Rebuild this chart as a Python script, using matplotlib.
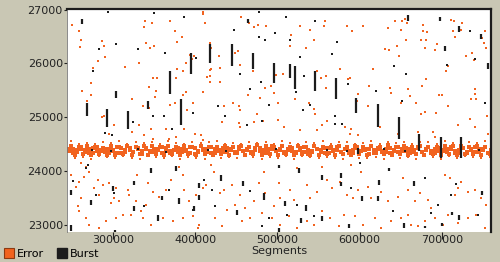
import numpy as np
import matplotlib
matplotlib.use("Agg")
import matplotlib.pyplot as plt
from matplotlib.lines import Line2D

plt.rcParams["font.family"] = ["DejaVu Sans"]

# ---- data (segment, value) ----
x_ticks = [300000, 400000, 500000, 600000, 700000]
y_ticks = [23000, 24000, 25000, 26000, 27000]

# scattered errors, upper half
err_up_x = [250150, 259060, 261090, 259870, 286220, 289460, 290680, 282160, 276080, 273250,
            262300, 273250, 267980, 267980, 288650, 286620, 314180, 331200, 339310, 347420,
            337280, 344580, 340120, 349440, 348230, 353090, 343360, 352280, 351470, 323100,
            336070, 344180, 369300, 375790, 369300, 376600, 377820, 385520, 369300, 377410,
            383890, 375380, 393620, 398080, 388760, 396060, 409030, 409840, 412270, 419160,
            418350, 413890, 417530, 409840, 388760, 385520, 382680, 396860, 389560,
            456050, 471040, 464960, 486440, 476310, 418350, 419160, 418350, 429300, 429700,
            430510, 447940, 454830, 444700, 451590, 434570, 445910, 453610, 454830, 463750,
            478740, 475100, 469830, 485230, 492120, 495360, 498600, 506710, 500630, 521700,
            527780, 534670, 539940, 544810, 516840, 515630, 558180, 556160, 553320, 558990,
            558990, 544810, 546020, 538720, 576420, 587770, 584530, 590610, 548050,
            590620, 604000, 642500, 651420, 654660, 657900, 650610, 634400, 655880, 635210,
            630340, 645340, 647770, 616160, 676950, 676950, 681820, 681010, 674930, 678980,
            694380, 691950, 710590, 714640, 713430, 716270, 724780, 722750, 751930, 749100,
            753960, 751130, 729640, 738960, 736940, 705320, 707350, 681010, 675740, 696000,
            700050, 707350, 679790, 693160, 674930, 636420, 637640, 658710, 660740, 649800,
            668850, 610890, 610080, 597920, 597110, 585760, 739770, 740580, 741800, 734910,
            755180, 760040]
err_up_y = [26717, 26594, 26441, 26306, 26422, 26330, 26121, 26054, 25906, 25630,
            25488, 25409, 25304, 25231, 25028, 24997, 25931, 26011, 26779, 26760,
            26674, 26287, 26379, 26330, 25734, 25728, 25556, 25488, 25384, 25347,
            25206, 25181, 25224, 25274, 25826, 25734, 25888, 25851, 26779, 26392,
            26490, 26594, 26164, 26134, 26011, 26091, 26963, 26920, 26760, 26287,
            25869, 25747, 25661, 25470, 25476, 25409, 25323, 25261, 25138,
            26871, 26674, 26748, 26686, 26717, 26379, 25888, 25765, 26146, 25919,
            25654, 26195, 25980, 26330, 26226, 25212, 25261, 25212, 25138, 25409,
            25366, 25058, 25857, 25550, 25581, 25458, 25777, 25796, 25274, 25335,
            26699, 26287, 26625, 26428, 26533, 26330, 26779, 26699, 25734, 25765,
            25550, 25151, 25058, 25274, 25888, 25734, 26686, 26594, 25857,
            26594, 26699, 26797, 26779, 26822, 26760, 26625, 26656, 26441, 26256,
            26269, 26330, 26134, 25888, 26717, 26594, 26576, 26441, 26441, 26287,
            26367, 26256, 26809, 26779, 26594, 26490, 26748, 26625, 26594, 26471,
            26287, 26379, 26134, 26072, 26195, 25857, 25949, 25704, 25581, 25409,
            25409, 25212, 25089, 25077, 25058, 25550, 25446, 25519, 25396, 25274,
            25274, 25581, 25212, 25427, 25304, 25704, 25519, 25427, 25335, 25335,
            25028, 25550]

# scattered errors, lower half
err_lo_x = [300810, 295540, 323100, 338100, 332020, 346200, 349040, 364440, 367680, 376600,
            386730, 400110, 407000, 409840, 261090, 267170, 271220, 265140, 259060, 255010,
            281350, 287430, 277300, 283380, 295540, 303650, 300810, 297570, 307700, 317830,
            319860, 328770, 342150, 348230, 340120, 327960, 334040, 356330, 364440, 370520,
            380650, 384700, 386730, 392810, 400920, 409020, 413080, 257040, 259060, 267170,
            271220, 283380, 291490, 303650, 311750, 321880, 336070, 346200, 360390, 372550,
            384700, 396860, 404960, 402940, 261090, 248930,
            432540, 452800, 454830, 471040, 482390, 500220, 507520, 527780, 548050, 554130,
            560210, 582500, 588580, 419160, 422410, 430510, 434570, 444700, 454830, 448750,
            460910, 477120, 483200, 485230, 495360, 503470, 501440, 515630, 519680, 523730,
            535890, 539940, 548050, 554130, 560210, 566290, 576420, 584530, 424430, 432540,
            456860, 466990, 481170, 493340, 503470, 513600, 523730, 535890, 544000, 554130,
            564260, 574390, 580470, 471040, 438620,
            589810, 597920, 622240, 624260, 646560, 670870, 689110, 691140, 719510, 733700,
            739770, 755980, 589810, 601970, 610080, 597920, 591840, 614130, 626290, 634400,
            646560, 652640, 658710, 666820, 672900, 683030, 687090, 695190, 703300, 709380,
            719510, 715460, 723560, 731670, 739770, 747880, 753960, 593870, 604000, 618180,
            626290, 638450, 650610, 662770, 670870, 678980, 691140, 701270, 707350, 719510,
            731670, 741800, 751930, 760040, 658710]
err_lo_y = [24850, 24697, 24727, 24678, 24850, 24789, 24604, 24789, 24604, 24635,
            24789, 24697, 24666, 24574, 24144, 24082, 23990, 23898, 23806, 23714,
            23837, 23744, 23683, 23560, 23775, 23683, 23499, 23407, 23437, 23652,
            23560, 23929, 23775, 23622, 23376, 23437, 23253, 23529, 23652, 23837,
            24082, 23929, 23652, 23437, 23560, 23683, 23744, 23345, 23253, 23130,
            23007, 22946, 23069, 23130, 23192, 23192, 23130, 23007, 23130, 23069,
            23130, 23161, 23007, 22946, 23499, 23929,
            24912, 24899, 24819, 24912, 24924, 24942, 24819, 24758, 24758, 24850,
            24924, 24819, 24697, 24113, 23990, 23591, 23652, 23744, 23560, 23376,
            23314, 23775, 23990, 23591, 23345, 23499, 23775, 23652, 23468, 24052,
            23744, 23499, 23622, 24082, 23837, 23683, 23806, 23560, 23130, 22977,
            23069, 23130, 23222, 23130, 23007, 23161, 22946, 23069, 23007, 23253,
            23130, 22977, 23192, 23437, 23284,
            24789, 24666, 24942, 24819, 24697, 24727, 24727, 24635, 24850, 24973,
            24819, 24697, 24113, 23990, 23714, 23652, 23499, 23499, 23622, 23437,
            23529, 23867, 23652, 23437, 23591, 23468, 23314, 23376, 23929, 23867,
            23683, 23560, 23806, 23622, 23652, 23499, 23376, 23161, 23007, 23130,
            22946, 23069, 23130, 23007, 22977, 23069, 23130, 23007, 23192, 23038,
            23130, 23192, 22946, 23069, 23192]

# the dense error band around 24400
band_x_a = [246000, 251200, 255800, 260900, 265700, 270600, 275900, 280500, 285600, 290300,
            295400, 300100, 305300, 310200, 315000, 320100, 324800, 329900, 334700, 339800,
            344500, 349700, 354400, 359600, 364300, 369500, 374200, 379300, 384100, 389200,
            394000, 399100, 403900, 409000, 413800, 418900, 423700, 428800, 433600, 438700,
            443500, 448600, 453400, 458500, 463300, 468400, 473200, 478300, 483100, 488200,
            493000, 498100, 502900, 508000, 512800, 517900, 522700, 527800, 532600, 537700,
            542500, 547600, 552400, 557500, 562300, 567400, 572200, 577300, 582100, 587200,
            592000, 597100, 601900, 607000, 611800, 616900, 621700, 626800, 631600, 636700,
            641500, 646600, 651400, 656500, 661300, 666400, 671200, 676300, 681100, 686200,
            691000, 696100, 700900, 706000, 710800, 715900, 720700, 725800, 730600, 735700,
            740500, 745600, 750400, 755500, 760300]
band_x_b = [248500, 253400, 258400, 263300, 268200, 273100, 278200, 283000, 288000, 292800,
            297800, 302700, 307700, 312600, 317500, 322500, 327400, 332300, 337300, 342200,
            347100, 352000, 357000, 361900, 366900, 371800, 376800, 381700, 386600, 391600,
            396500, 401500, 406400, 411400, 416300, 421300, 426200, 431200, 436100, 441100,
            446000, 451000, 455900, 460900, 465800, 470800, 475700, 480700, 485600, 490600,
            495500, 500500, 505400, 510400, 515300, 520300, 525200, 530200, 535100, 540100,
            545000, 550000, 554900, 559900, 564800, 569800, 574700, 579700, 584600, 589600,
            594500, 599500, 604400, 609400, 614300, 619300, 624200, 629200, 634100, 639100,
            644000, 649000, 653900, 658900, 663800, 668800, 673700, 678700, 683600, 688600,
            693500, 698500, 703400, 708400, 713300, 718300, 723200, 728200, 733100, 738100,
            743000, 748000, 752900, 757900, 762500]
band_y_a = [24372, 24405, 24351, 24418, 24388, 24342, 24426, 24367, 24398, 24355,
            24412, 24380, 24338, 24421, 24364, 24395, 24349, 24433, 24376, 24402,
            24358, 24415, 24387, 24341, 24424, 24369, 24396, 24352, 24410, 24383,
            24345, 24429, 24361, 24392, 24404, 24337, 24418, 24373, 24356, 24427,
            24390, 24348, 24413, 24378, 24401, 24359, 24432, 24366, 24385, 24343,
            24420, 24371, 24397, 24354, 24408, 24382, 24339, 24425, 24362, 24393,
            24350, 24416, 24388, 24344, 24430, 24368, 24399, 24357, 24411, 24379,
            24346, 24423, 24365, 24391, 24406, 24340, 24419, 24374, 24353, 24428,
            24386, 24347, 24414, 24377, 24403, 24360, 24431, 24363, 24389, 24342,
            24417, 24370, 24395, 24355, 24409, 24381, 24336, 24424, 24361, 24394,
            24349, 24412, 24384, 24345, 24400]
band_y_b = [24462, 24301, 24448, 24315, 24471, 24296, 24455, 24322, 24439, 24308,
            24476, 24299, 24451, 24318, 24466, 24293, 24444, 24327, 24458, 24305,
            24470, 24311, 24441, 24298, 24463, 24320, 24453, 24303, 24474, 24314,
            24446, 24291, 24468, 24325, 24457, 24307, 24442, 24317, 24473, 24295,
            24450, 24329, 24465, 24302, 24447, 24313, 24478, 24297, 24459, 24321,
            24443, 24306, 24469, 24316, 24452, 24292, 24467, 24326, 24445, 24309,
            24475, 24300, 24456, 24319, 24440, 24294, 24464, 24323, 24449, 24304,
            24472, 24312, 24454, 24297, 24461, 24328, 24444, 24310, 24477, 24299,
            24457, 24318, 24466, 24293, 24448, 24324, 24471, 24306, 24453, 24315,
            24442, 24301, 24469, 24320, 24458, 24296, 24475, 24311, 24446, 24327,
            24463, 24303, 24451, 24317, 24470]
band_y_c = [24418, 24336, 24392, 24447, 24359, 24404, 24328, 24441, 24375, 24419,
            24346, 24397, 24452, 24331, 24386, 24425, 24357, 24409, 24323, 24438,
            24381, 24349, 24416, 24456, 24368, 24334, 24401, 24429, 24352, 24391,
            24444, 24326, 24378, 24413, 24361, 24450, 24339, 24394, 24422, 24355,
            24407, 24332, 24446, 24373, 24415, 24344, 24389, 24435, 24329, 24402,
            24458, 24366, 24411, 24337, 24384, 24427, 24350, 24398, 24443, 24324,
            24379, 24420, 24362, 24437, 24341, 24393, 24454, 24358, 24405, 24333,
            24387, 24448, 24370, 24414, 24327, 24399, 24436, 24353, 24410, 24343,
            24383, 24451, 24365, 24424, 24338, 24396, 24441, 24348, 24412, 24376,
            24330, 24433, 24369, 24406, 24457, 24345, 24390, 24421, 24335, 24403,
            24445, 24360, 24417, 24331, 24388]
band_y_d = [24552, 24243, 24510, 24268, 24531, 24225, 24498, 24281, 24545, 24257,
            24519, 24236, 24563, 24274, 24503, 24249, 24538, 24229, 24515, 24286,
            24548, 24262, 24507, 24241, 24559, 24277, 24524, 24233, 24501, 24265,
            24541, 24252, 24517, 24221, 24535, 24284, 24556, 24246, 24512, 24270,
            24527, 24238, 24505, 24279, 24550, 24255, 24520, 24230, 24543, 24267,
            24509, 24244, 24561, 24273, 24529, 24226, 24502, 24282, 24539, 24259,
            24516, 24235, 24554, 24271, 24508, 24248, 24533, 24222, 24547, 24285,
            24513, 24253, 24526, 24239, 24558, 24264, 24504, 24231, 24537, 24276,
            24521, 24247, 24549, 24269, 24506, 24234, 24532, 24280, 24544, 24256,
            24511, 24227, 24557, 24272, 24525, 24242, 24500, 24287, 24540, 24260,
            24518, 24237, 24553, 24266, 24514]

# bursts: segment, low value, high value
burst_x = [262300, 268000, 292300, 303600, 318200, 342600, 369300, 382700, 394800, 418000,
           444700, 463800, 469900, 495400, 515200, 520900, 545300, 571200, 595900, 622200,
           647800, 672100, 698400, 723500, 697200, 720700, 747100, 703300, 756000, 597900,
           658700,
           248900, 248900, 273250, 300000, 325500, 325500, 346200, 359600, 354700, 380300,
           376600, 404600, 404600, 398500, 302400, 431300, 458100, 483600, 501900, 526200,
           509200, 534700, 554100, 577200, 577200, 450800, 528600, 554100, 587000, 501900,
           623500, 602800, 622200, 666000, 653900, 712200, 720700, 748700, 700000, 679400,
           635600]
burst_lo = [26724, 25028, 24825, 25360, 24790, 25157, 25433, 24850, 25802, 26005,
            25950, 26742, 25894, 25636, 25728, 25525, 25489, 25341, 25083, 24825,
            24604, 24365, 24236, 24236, 26780, 26576, 26447, 26226, 25894, 24327,
            26779,
            23554, 22890, 23369, 23627, 23738, 23259, 23959, 23461, 23074, 23388,
            23996, 23683, 23461, 23259, 22853, 23812, 23720, 23461, 24051, 23959,
            23351, 23259, 23830, 23867, 23720, 23185, 23038, 23074, 22945, 22853,
            23738, 23443, 23443, 23720, 22945, 23185, 23093, 23554, 22982, 22945,
            23996]
burst_hi = [26816, 25267, 25157, 25489, 25120, 25304, 25857, 25341, 26189, 26355,
            26355, 26816, 26189, 26005, 25986, 25950, 25857, 25728, 25360, 25249,
            25000, 24696, 24641, 24641, 26870, 26687, 26539, 26318, 26005, 24438,
            26908,
            23646, 23001, 23461, 23719, 23812, 23351, 24051, 23535, 23185, 23498,
            24088, 23775, 23554, 23351, 22908, 23922, 23812, 23590, 24106, 24051,
            23443, 23369, 23922, 23959, 23793, 23277, 23130, 23166, 23019, 22945,
            23830, 23535, 23535, 23812, 23038, 23240, 23185, 23627, 23038, 22982,
            24051]

# single-segment bursts
dot_x = [293600, 349500, 303600, 283000, 330400, 363200, 386300, 400900, 275300, 397300,
         348600, 362000, 477200, 510400, 545600, 446800, 477500, 484400, 497000, 515200,
         572400, 566300, 527000, 454400, 480000, 466200, 531900, 522500, 489300, 531000,
         539600, 570000, 436200, 427700, 641700, 655900, 706100, 733800, 739800, 752000,
         619800, 651400, 585800, 290300, 298400, 371700, 324000, 269200, 267200, 251000,
         279300, 301200, 368100, 337700, 410700, 397300, 463000, 481200, 570000, 578500,
         466600, 523700, 544000, 489300, 511600, 481200, 420400, 424000, 600000, 679000,
         717100, 711000, 640500, 695200, 686700, 743800, 589400, 273800, 297000, 330000,
         365000, 415000, 437000, 498000, 560000, 584000, 630000, 655000, 745000]
dot_y = [26963, 26945, 26355, 26263, 26263, 26189, 26871, 26097, 25857, 25083,
         25028, 25028, 26963, 26853, 26797, 26613, 26484, 26429, 26558, 26429,
         26392, 26171, 26115, 25802, 25655, 25526, 25765, 25470, 25231, 25139,
         25231, 25028, 25028, 25212, 25949, 25802, 25968, 26594, 26079, 25268,
         25489, 25304, 25618, 24715, 24678, 24788, 24917, 24112, 24051, 23812,
         23554, 23590, 23646, 23351, 23830, 23277, 24862, 24936, 24880, 24880,
         23627, 23369, 23167, 23130, 23185, 22982, 23646, 23351, 24143, 23867,
         23762, 23560, 23259, 23369, 23222, 23190, 23683, 24400, 24380, 24420,
         24360, 24400, 24380, 24420, 24390, 24370, 24410, 24380, 24400]

ORANGE = "#f1631f"
BLACK = "#1c1c1c"
BG = "#c9c7b4"

fig = plt.figure(figsize=(5, 2.62), dpi=100, facecolor=BG)
ax = fig.add_axes([0.134, 0.1145, 0.848, 0.851])
ax.set_facecolor("white")

# dense band: core rows bigger, outer row smaller
ax.plot(band_x_a + band_x_b + band_x_a, band_y_a + band_y_b + band_y_c,
        ls="none", marker="s", ms=3.0, mew=0, color=ORANGE)
ax.plot(band_x_b, band_y_d, ls="none", marker="s", ms=1.8, mew=0, color=ORANGE)
ax.plot(err_up_x + err_lo_x, err_up_y + err_lo_y, ls="none", marker="s",
        ms=1.7, mew=0, color=ORANGE)

ax.vlines(burst_x, burst_lo, burst_hi, color=BLACK, lw=1.6)
ax.plot(dot_x, dot_y, ls="none", marker="s", ms=1.6, mew=0, color=BLACK)

ax.set_xlim(244000, 759700)
ax.set_ylim(22870, 27010)
ax.set_xticks(x_ticks)
ax.set_xticklabels([str(v) for v in x_ticks])
ax.set_yticks(y_ticks)
ax.set_yticklabels([str(v) for v in y_ticks])

ax.tick_params(axis="x", direction="out", length=5, width=0.8, pad=-3,
               colors="#222222", labelsize=8)
ax.tick_params(axis="y", direction="out", length=2.5, width=0.8, pad=0.5,
               colors="#222222", labelsize=8)

ax.spines["top"].set_linewidth(1.6)
ax.spines["top"].set_color(BLACK)
ax.spines["right"].set_linewidth(1.6)
ax.spines["right"].set_color(BLACK)
ax.spines["left"].set_linewidth(0.6)
ax.spines["left"].set_color("#777777")
ax.spines["bottom"].set_visible(False)

ax.set_xlabel("Segments", fontsize=8, color="#222222", labelpad=1)

handles = [Line2D([], [], ls="none", marker="s", ms=7, color=ORANGE,
                  markeredgecolor="#8c3a12", mew=0.8, label="Error"),
           Line2D([], [], ls="none", marker="s", ms=7, color=BLACK, label="Burst")]
fig.legend(handles=handles, loc="lower left", bbox_to_anchor=(-0.01, -0.025),
           ncol=2, frameon=False, fontsize=8, handlelength=0.8,
           handletextpad=0.3, columnspacing=1.2)

fig.savefig("out.png", dpi=100, facecolor=BG)
